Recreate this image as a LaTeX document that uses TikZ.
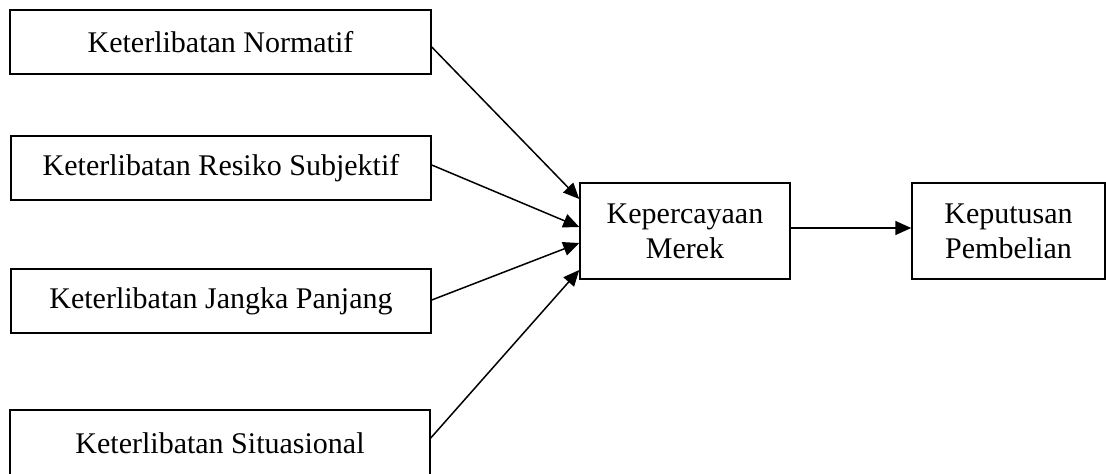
\documentclass[tikz,border=0pt]{standalone}
\usepackage{fontspec}
\setmainfont{Liberation Serif}
\usetikzlibrary{arrows.meta}
\begin{document}
\begin{tikzpicture}[x=1pt,y=-1pt,
  box/.style={draw,line width=1.5pt,inner sep=0pt,align=center,
    font=\fontsize{30}{35}\selectfont},
  arr/.style={line width=1.5pt,-{Triangle[length=16pt,width=14pt]}}]
\useasboundingbox (0,0) rectangle (1106,474);
\node[box,minimum width=421pt,minimum height=64pt] (b1) at (220.5,42) {Keterlibatan Normatif};
\node[box,minimum width=420pt,minimum height=64pt] (b2) at (221,168) {Keterlibatan Resiko Subjektif};
\node[box,minimum width=420pt,minimum height=64pt] (b3) at (221,301) {Keterlibatan Jangka Panjang};
\node[box,minimum width=420pt,minimum height=66pt] (b4) at (220,443) {Keterlibatan Situasional};
\node[box,minimum width=210pt,minimum height=96pt] (mid) at (685,231) {Kepercayaan\\Merek};
\node[box,minimum width=193pt,minimum height=96pt] (out) at (1008.5,231) {Keputusan\\Pembelian};
\draw[arr] ([yshift=-5pt]b1.east) -- ([yshift=32pt]mid.west);
\draw[arr] ([yshift=3pt]b2.east) -- ([yshift=4pt]mid.west);
\draw[arr] ([yshift=1pt]b3.east) -- ([yshift=-12pt]mid.west);
\draw[arr] ([yshift=5pt]b4.east) -- ([yshift=-39pt]mid.west);
\draw[arr] ([yshift=3pt]mid.east) -- ([yshift=3pt]out.west);
\end{tikzpicture}
\end{document}
